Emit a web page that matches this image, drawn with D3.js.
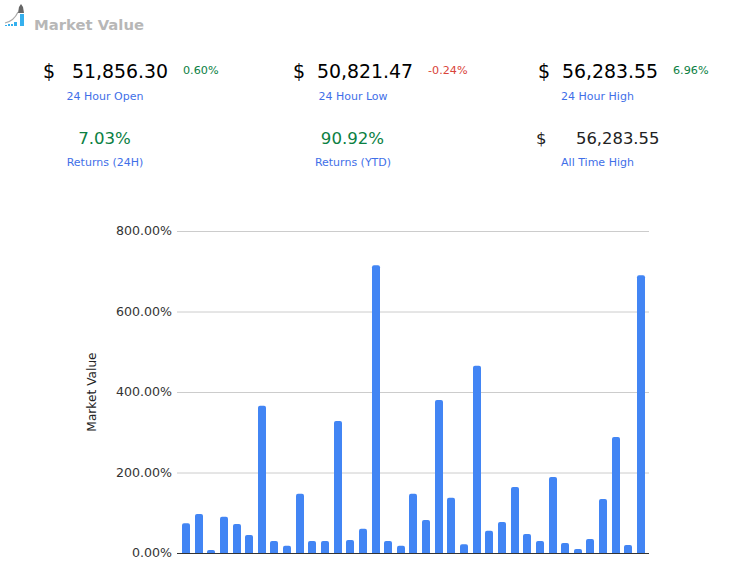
<!DOCTYPE html>
<html><head><meta charset="utf-8">
<script src="https://cdnjs.cloudflare.com/ajax/libs/d3/7.8.5/d3.min.js"></script>
<style>html,body{margin:0;padding:0;background:#fff}svg{display:block}</style></head>
<body><svg id="c" width="734" height="570"></svg>
<script>
const title = "Market Value";
const values = [74,97,7.5,90,72,45,366,30,18,147,30,30,328,32,60,715,30,18,147,82,380,137,22,465,55,77,164,47,30,189,25,10,35,134,288,20,690];
const categories = values.map((_, i) => i + 1);
const yTicks = [0,200,400,600,800];
const statValues = ["51,856.30","50,821.47","56,283.55"];
const statLabels = ["24 Hour Open","24 Hour Low","24 Hour High"];
const statDeltas = ["0.60%","-0.24%","6.96%"];
const statDeltaColors = ["#0b8043","#d9443a","#0b8043"];
const returnValues = ["7.03%","90.92%"];
const returnLabels = ["Returns (24H)","Returns (YTD)"];

const svg = d3.select("#c");
const FONT = "'DejaVu Sans',sans-serif";
const txt = (x,y,s,size,fill,anchor="start",weight="normal") => svg.append("text")
  .attr("x",x).attr("y",y).text(s).attr("font-family",FONT).attr("font-size",size)
  .attr("fill",fill).attr("text-anchor",anchor).attr("font-weight",weight);

// logo
const logo = svg.append("g");
[[5,25,2],[8,24,2],[11,24,2],[14,22,3],[20,14,4]].forEach(([x,y,w])=>logo.append("rect").attr("x",x).attr("y",y).attr("width",w).attr("height",26-y).attr("fill","#35b0ee"));
logo.append("path").attr("d","M5 23 Q14 21 18 12").attr("fill","none").attr("stroke","#aaa").attr("stroke-width",1.2);
logo.append("path").attr("d","M18 13 L19 7 L21 4 L23 7 L24 13 Z").attr("fill","#666");

txt(34,30,title,14.8,"#b7b7b7","start","bold");

const statX=[43,293,538], numX=[72,317,562], deltaX=[183,428,673], labelX=[105,353,597.5];
statValues.forEach((v,i)=>{
  txt(statX[i],78,"$",19,"#000");
  txt(numX[i],78,v,18.9,"#000");
  txt(deltaX[i],74,statDeltas[i],11.2,statDeltaColors[i]);
  txt(labelX[i],100,statLabels[i],11,"#3f6fe8","middle");
});
returnValues.forEach((v,i)=>{
  txt(labelX[i]-0.5,144,v,16.6,"#0b8043","middle");
  txt(labelX[i],166,returnLabels[i],11,"#3f6fe8","middle");
});
txt(536,144,"$",16.5,"#222");
txt(576,144,"56,283.55",16.4,"#222");
txt(labelX[2],166,"All Time High",11,"#3f6fe8","middle");

// chart
const y = d3.scaleLinear().domain([0,800]).range([553,231]);
const x = d3.scaleBand().domain(categories).range([179.7,647.3]).paddingInner(0.367).paddingOuter(0.18);
const ax = svg.append("g").attr("transform","translate(177,0)")
  .call(d3.axisLeft(y).tickValues(yTicks).tickSize(-472).tickPadding(5).tickFormat(d=>d3.format(".2f")(d)+"%"));
ax.select(".domain").remove();
ax.selectAll(".tick line").attr("stroke","#ccc");
ax.selectAll(".tick text").attr("font-family",FONT).attr("font-size",12.6).attr("fill","#333").attr("dy","0.28em");

const top2 = d=>{
  const x0=Math.round(x(d.c)+x.bandwidth()/2-4), w=8, y0=y(d.v), y1=y(0), r=Math.min(2,y1-y0);
  return `M${x0} ${y1}V${y0+r}Q${x0} ${y0} ${x0+r} ${y0}H${x0+w-r}Q${x0+w} ${y0} ${x0+w} ${y0+r}V${y1}Z`;
};
svg.append("g").selectAll("path").data(values.map((v,i)=>({v,c:categories[i]}))).join("path")
  .attr("d",top2).attr("fill","#4285f4");
svg.append("line").attr("x1",177).attr("x2",649).attr("y1",553.5).attr("y2",553.5).attr("stroke","#333");
svg.append("text").attr("transform","translate(96,392) rotate(-90)").attr("text-anchor","middle")
  .attr("font-family","'DejaVu Sans',sans-serif").attr("font-size",12.2).attr("fill","#222").text(title);
</script></body></html>
